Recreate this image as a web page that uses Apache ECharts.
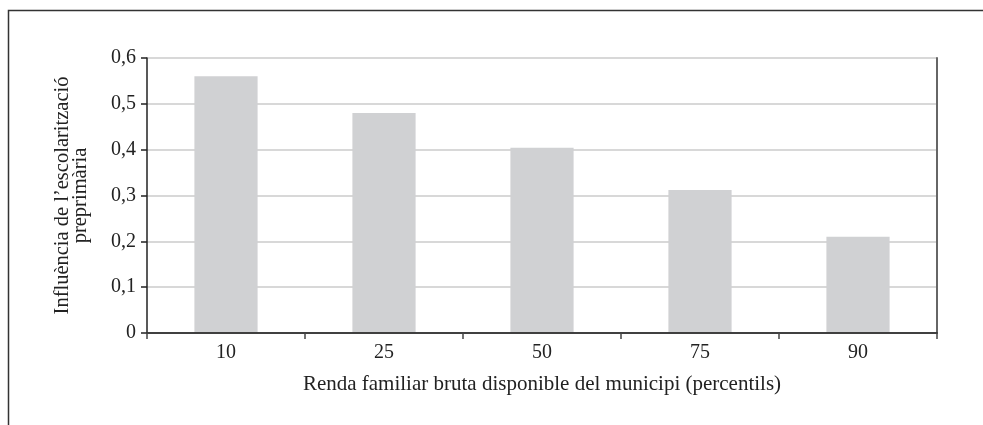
<!DOCTYPE html>
<html>
<head>
<meta charset="utf-8">
<script src="https://cdn.jsdelivr.net/npm/echarts@6/dist/echarts.min.js"></script>
<style>
  html, body { margin: 0; padding: 0; background: #fff; }
  #chart { width: 983px; height: 425px; }
</style>
</head>
<body>
<div id="chart"></div>
<script>
// percentils de renda
var categories = ["10", "25", "50", "75", "90"];
var influence = [0.56, 0.48, 0.404, 0.312, 0.21];

var xName = "Renda familiar bruta disponible del municipi (percentils)";
var yName = "Influència de l’escolarització\npreprimària";

var font = "'Liberation Serif', 'DejaVu Serif', serif";

var chart = echarts.init(document.getElementById("chart"));

var options = {
    backgroundColor: "#fff",
    animation: false,
    textStyle: { fontFamily: font },
    grid: {
        left: 147,
        right: 46,
        top: 58,
        bottom: 92,
    },
    graphic: [
        {
            type: "polyline",
            silent: true,
            shape: { points: [[8.5, 425], [8.5, 10.5], [983, 10.5]] },
            style: { stroke: "#333", lineWidth: 1.5, fill: null },
        },
    ],
    xAxis: [
        {
            type: "category",
            data: categories,
            boundaryGap: true,
            axisLine: { show: true, lineStyle: { color: "#444", width: 1.5 } },
            axisTick: {
                show: true,
                inside: false,
                length: 6,
                lineStyle: { color: "#444", width: 1.5 },
            },
            axisLabel: {
                color: "#222",
                fontSize: 20,
                fontFamily: font,
                margin: 10,
            },
            name: xName,
            nameLocation: "middle",
            nameGap: 41,
            nameTextStyle: { color: "#222", fontSize: 21, fontFamily: font },
            splitLine: { show: false },
            z: 3,
        },
        {
            type: "category",
            position: "top",
            data: categories,
            axisLine: { show: true, lineStyle: { color: "#333", width: 1.5 } },
            axisTick: { show: false },
            axisLabel: { show: false },
            splitLine: { show: false },
            z: 3,
        },
    ],
    yAxis: [
        {
            type: "value",
            min: 0,
            max: 0.6,
            interval: 0.1,
            axisLine: { show: true, lineStyle: { color: "#222", width: 1.5 } },
            axisTick: {
                show: true,
                inside: false,
                length: 6,
                lineStyle: { color: "#222", width: 1.5 },
            },
            axisLabel: {
                color: "#222",
                fontSize: 20,
                fontFamily: font,
                margin: 11,
                formatter: function (v) {
                    return v === 0 ? "0" : v.toFixed(1).replace(".", ",");
                },
            },
            splitLine: {
                show: true,
                lineStyle: { color: "#cbcbcb", width: 1.5 },
            },
            name: yName,
            nameLocation: "middle",
            nameGap: 57,
            nameTextStyle: {
                color: "#222",
                fontSize: 20.5,
                fontFamily: font,
                lineHeight: 18,
                align: "center",
            },
        },
        {
            type: "value",
            position: "right",
            min: 0,
            max: 0.6,
            interval: 0.1,
            axisLine: { show: true, lineStyle: { color: "#666", width: 2 } },
            axisTick: { show: false },
            axisLabel: { show: false },
            splitLine: { show: false },
            z: 3,
        },
    ],
    series: [
        {
            type: "bar",
            data: influence,
            barWidth: "40%",
            itemStyle: { color: "#d0d1d3" },
            silent: true,
        },
    ],
};
chart.setOption(options);
</script>
</body>
</html>
